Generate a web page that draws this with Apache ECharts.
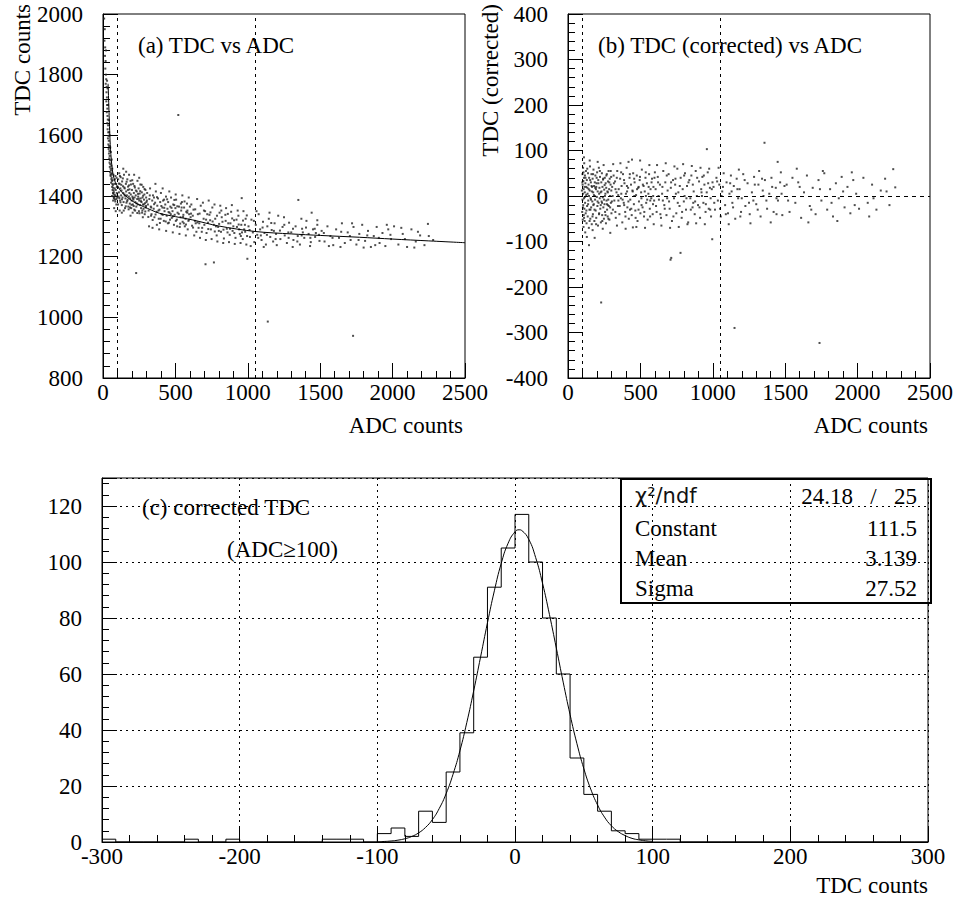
<!DOCTYPE html>
<html><head><meta charset="utf-8">
<script src="https://cdn.jsdelivr.net/npm/echarts@6/dist/echarts.min.js"></script>
<style>html,body{margin:0;padding:0;background:#fff}#c{width:957px;height:905px}</style>
</head><body><div id="c"></div>
<script>
// ---------- data ----------
const cutLinesADC = [100, 1050];

// (a) fitted time-walk curve (ADC, TDC)
const walkFitADC = [35,40,45,50,60,70,85,100,130,170,220,280,390,500,620,800,1050,1300,1500,1770,2000,2250,2500];
const walkFitTDC = [1770,1700,1630,1570,1505,1470,1445,1432,1412,1395,1378,1365,1343,1332,1321,1301,1283,1275,1270,1264,1258,1252,1246];

// (a) raw events (ADC, TDC)
const eventsA = [
[8,1985],[12,1950],[10,1912],[15,1890],[14,1862],[18,1845],[16,1820],[20,1800],[22,1785],[19,1770],[25,1760],[24,1742],[27,1725],[23,1712],[28,1700],[30,1688],[26,1676],[31,1664],[33,1652],[29,1640],[35,1633],[32,1620],[36,1610],[38,1598],[34,1590],[40,1582],[37,1570],[42,1565],[39,1555],[44,1548],[41,1540],[46,1532],[43,1524],[48,1518],[45,1510],[50,1505],[47,1496],[52,1490],[55,1484],[49,1478],[57,1472],[53,1466],[60,1460],[58,1455],[62,1450],[56,1444],[65,1440],[68,1436],[63,1430],[70,1427],[66,1420],[73,1418],[75,1412],[71,1408],[78,1404],[80,1398],[76,1392],[83,1388],[85,1382],[88,1420],[82,1455],[90,1440],[86,1466],[92,1372],[95,1410],[98,1395],[60,1520],[54,1545],[64,1490],[72,1470],[35,1700],[28,1780],[40,1650],[46,1600],[31,1755],[20,1880],[70,1385],[62,1400],[77,1360],[88,1350],[94,1460],[50,1560],[42,1610],[58,1500],
[52,1470],[67,1452],[74,1395],[81,1425],[87,1402],[93,1390],[96,1430],[79,1440],[61,1475],[69,1410],
[102,1430],[105,1455],[108,1398],[110,1412],[112,1475],[115,1440],[118,1385],[120,1425],[122,1462],[125,1402],[128,1418],[130,1370],[132,1448],[135,1395],[138,1432],[140,1410],[142,1380],[145,1470],[148,1405],[150,1425],[152,1360],[155,1392],[158,1440],[160,1415],[162,1378],[165,1402],[168,1455],[170,1388],[172,1420],[175,1365],[178,1398],[180,1435],[182,1410],[185,1375],[188,1392],[190,1450],[192,1405],[195,1360],[198,1385],[200,1420],[203,1398],[206,1372],[208,1440],[210,1388],[213,1410],[216,1355],[218,1395],[220,1428],[223,1380],[226,1402],[229,1146],[230,1365],[233,1415],[236,1390],[238,1450],[240,1372],[243,1398],[246,1425],[248,1350],[250,1385],[253,1408],[256,1370],[258,1438],[260,1392],[263,1360],[266,1380],[268,1412],[270,1345],[273,1395],[276,1372],[278,1430],[280,1358],[283,1388],[286,1405],[288,1340],[290,1376],[293,1420],[296,1362],[298,1395],[300,1380],[115,1352],[130,1345],[160,1480],[190,1335],[215,1470],[250,1460],[275,1330],[140,1490],[205,1345],[180,1470],
[104,1372],[109,1441],[113,1393],[117,1466],[121,1379],[126,1437],[131,1389],[137,1458],[143,1352],[147,1428],[153,1401],[157,1366],[163,1447],[167,1383],[173,1431],[177,1356],[183,1422],[187,1362],[193,1438],[197,1371],[202,1452],[207,1393],[212,1367],[217,1433],[222,1352],[227,1418],[232,1376],[237,1344],[242,1407],[247,1391],[252,1343],[257,1416],[262,1383],[267,1437],[272,1352],[277,1401],[282,1372],[287,1423],[292,1349],[297,1367],
[305,1410],[310,1372],[315,1352],[320,1390],[325,1425],[330,1365],[335,1340],[340,1385],[345,1402],[350,1358],[355,1330],[360,1378],[365,1415],[370,1348],[375,1368],[380,1392],[385,1325],[390,1355],[395,1380],[400,1410],[405,1340],[410,1362],[415,1385],[420,1318],[425,1350],[430,1372],[435,1398],[440,1335],[445,1358],[450,1380],[455,1312],[460,1345],[465,1365],[470,1395],[475,1328],[480,1350],[485,1372],[490,1305],[495,1338],[500,1360],[505,1388],[510,1322],[515,1345],[520,1667],[525,1365],[530,1298],[535,1330],[540,1352],[545,1380],[550,1315],[555,1338],[560,1362],[565,1300],[570,1325],[575,1348],[580,1375],[585,1290],[590,1318],[595,1340],[600,1365],[318,1300],[342,1295],[362,1440],[388,1290],[412,1425],[436,1285],[458,1415],[482,1280],[502,1405],[528,1275],[548,1402],[572,1270],[592,1395],[332,1335],[352,1395],[372,1305],[398,1325],[422,1388],[448,1310],[468,1340],[492,1370],[512,1300],[538,1375],[558,1310],[582,1345],
[303,1385],[313,1331],[323,1402],[333,1362],[343,1321],[353,1373],[363,1339],[373,1396],[383,1352],[393,1311],[403,1367],[413,1338],[423,1361],[433,1316],[443,1389],[453,1347],[463,1322],[473,1361],[483,1333],[493,1387],[503,1318],[513,1366],[523,1341],[533,1309],[543,1362],[553,1331],[563,1382],[573,1306],[583,1352],[593,1322],
[605,1330],[615,1302],[625,1355],[635,1318],[645,1282],[655,1340],[665,1310],[675,1368],[685,1295],[695,1325],[705,1350],[708,1175],[715,1278],[725,1312],[735,1338],[745,1290],[755,1362],[765,1305],[766,1181],[775,1325],[785,1270],[795,1298],[805,1345],[815,1282],[825,1315],[835,1260],[845,1338],[855,1292],[865,1310],[875,1272],[885,1348],[895,1285],[905,1320],[915,1262],[925,1298],[935,1335],[945,1275],[955,1305],[958,1393],[965,1258],[975,1290],[985,1325],[995,1268],[997,1193],[610,1372],[630,1270],[650,1390],[670,1262],[690,1378],[710,1255],[730,1385],[750,1258],[770,1372],[790,1250],[810,1368],[830,1245],[850,1360],[870,1248],[890,1370],[910,1242],[930,1352],[950,1245],[970,1350],[990,1240],[620,1335],[660,1295],[700,1305],[740,1320],[780,1300],[820,1330],[860,1280],[900,1300],[940,1290],[980,1305],[640,1310],[720,1340],[800,1285],[880,1310],[960,1280],
[608,1342],[622,1296],[637,1356],[652,1313],[667,1342],[682,1282],[697,1352],[712,1322],[727,1291],[742,1346],[757,1316],[772,1283],[787,1335],[802,1308],[817,1352],[832,1289],[847,1318],[862,1341],[877,1292],[892,1326],[907,1278],[922,1322],[937,1306],[952,1268],[967,1319],[982,1282],[993,1336],
[1005,1300],[1015,1265],[1025,1322],[1035,1280],[1045,1248],[1055,1305],[1065,1272],[1075,1340],[1085,1290],[1095,1255],[1105,1315],[1115,1278],[1125,1240],[1135,1300],[1138,986],[1145,1325],[1155,1265],[1165,1288],[1175,1250],[1185,1310],[1195,1275],[1210,1335],[1225,1258],[1240,1298],[1255,1270],[1270,1245],[1285,1312],[1300,1280],[1315,1255],[1330,1300],[1345,1268],[1349,1387],[1360,1240],[1375,1292],[1390,1262],[1405,1318],[1420,1275],[1435,1248],[1441,1345],[1450,1290],[1465,1265],[1480,1305],[1495,1252],[1020,1235],[1060,1350],[1110,1232],[1150,1345],[1200,1238],[1250,1330],[1310,1232],[1370,1325],[1430,1235],[1480,1320],[1090,1270],[1180,1285],[1280,1280],[1380,1280],[1470,1278],
[1012,1288],[1042,1318],[1072,1262],[1102,1296],[1132,1272],[1162,1311],[1192,1258],[1222,1286],[1252,1305],[1282,1262],[1312,1292],[1342,1250],[1372,1270],[1402,1296],[1432,1262],[1462,1292],[1492,1272],
[1510,1285],[1530,1250],[1550,1300],[1570,1268],[1590,1238],[1610,1290],[1630,1262],[1650,1310],[1670,1245],[1690,1280],[1710,1255],[1727,939],[1730,1298],[1750,1240],[1770,1275],[1790,1305],[1810,1252],[1830,1285],[1850,1232],[1870,1268],[1890,1298],[1910,1245],[1930,1278],[1950,1235],[1970,1290],[1990,1258],[2010,1300],[2040,1240],[2070,1275],[2100,1232],[2130,1290],[2160,1250],[2190,1270],[2220,1238],[2244,1308],[2250,1268],[2280,1255],[1560,1235],[1640,1232],[1720,1310],[1800,1230],[1880,1238],[1960,1305],[2060,1295],[2150,1230],
[1525,1278],[1585,1262],[1645,1282],[1705,1268],[1765,1255],[1825,1270],[1905,1262],[1985,1272],[2085,1258],[2175,1282]
];

// (b) corrected events (ADC, corrected TDC)
const eventsB = [
[96,12],[98,-35],[100,48],[100,-8],[101,25],[102,-52],[103,5],[104,62],[105,-20],[106,33],[107,-68],[108,15],[109,-42],[110,40],[111,-5],[112,72],[113,-28],[114,20],[115,-55],[116,8],[117,45],[118,-15],[119,-80],[120,28],[122,-38],[124,55],[126,2],[128,-60],[130,35],[132,-22],[134,18],[136,-45],[138,50],[140,-10],[142,25],[144,-70],[145,-108],[146,40],[148,-30],[150,12],[152,65],[154,-50],[156,-5],[158,30],[160,-25],[162,48],[164,-62],[166,20],[168,-12],[170,38],[172,-40],[174,8],[176,58],[178,-18],[180,22],[182,-55],[184,-92],[185,30],[187,-8],[189,45],[191,-32],[193,15],[195,-48],[197,28],[199,-2],[201,52],[203,-22],[205,10],[207,-65],[209,35],[211,-15],[213,62],[215,-38],[217,18],[219,-5],[221,42],[223,-28],[225,8],[227,-58],[229,-234],[230,30],[232,-12],[234,50],[236,-42],[238,20],[240,-3],[242,36],[244,-25],[246,68],[248,-50],[250,14],[252,-18],[254,40],[256,-35],[258,5],[260,28],[262,-60],[264,18],[266,-10],[268,48],[270,-30],[272,10],[274,-45],[276,32],[278,-8],[280,55],[282,-22],[284,15],[286,-52],[288,38],[290,0],[292,-81],[294,25],[296,-15],[298,42],[300,-38],[110,85],[130,-90],[150,78],[170,-75],[205,75],[240,-72],[125,20],[135,5],[145,0],[155,-30],[165,10],[175,-20],[185,0],[195,20],[215,5],[235,-15],[255,0],[275,-20],
[99,30],[103,-25],[107,52],[111,-48],[116,-2],[121,40],[127,-32],[133,60],[139,-18],[143,15],[149,-55],[153,35],[159,-8],[163,22],[169,-45],[173,48],[179,2],[183,-30],[188,18],[194,-62],[198,40],[204,-12],[210,28],[214,-40],[220,55],[226,-20],[231,10],[237,-55],[243,38],[249,-8],[253,24],[259,-42],[265,45],[269,-18],[275,8],[279,-50],[285,30],[291,-25],[295,55],[299,12],
[305,20],[310,-30],[315,45],[320,-10],[325,32],[330,-48],[335,8],[340,55],[345,-22],[350,15],[355,-40],[360,38],[365,-5],[370,22],[375,-58],[380,48],[385,-15],[390,28],[395,-35],[400,5],[405,62],[410,-25],[415,18],[420,-50],[425,40],[430,-8],[435,25],[440,-42],[445,12],[448,-69],[450,50],[455,-18],[460,30],[465,-32],[470,2],[475,45],[480,-55],[485,18],[490,-12],[495,35],[500,-38],[505,8],[510,58],[515,-25],[520,337],[522,22],[525,-45],[530,10],[535,40],[540,-15],[545,28],[550,-52],[555,5],[560,48],[565,-28],[570,15],[575,-5],[580,38],[585,-40],[590,20],[595,-10],[600,52],[312,70],[338,-65],[362,72],[398,-72],[418,75],[442,80],[472,-68],[498,78],[532,-70],[562,68],[592,-62],[308,0],[328,15],[348,-10],[368,5],[388,-20],[408,10],[428,-30],[458,0],[488,20],[508,-20],[538,0],[568,-10],[588,0],
[303,-12],[317,28],[327,-35],[337,40],[347,2],[357,-22],[367,52],[377,-8],[387,35],[397,-45],[407,22],[417,-12],[427,48],[437,-28],[447,10],[457,38],[467,-48],[477,15],[487,-30],[497,42],[507,-5],[517,25],[527,-35],[537,52],[547,-8],[557,20],[567,-45],[577,30],[587,-18],[597,40],
[605,15],[612,-35],[620,42],[628,-8],[635,25],[642,-48],[650,5],[658,55],[665,-20],[672,30],[680,-42],[688,12],[695,48],[702,-28],[708,-140],[710,18],[713,-136],[718,-55],[725,35],[732,-5],[740,25],[748,-38],[755,60],[762,8],[770,-22],[777,-125],[778,40],[785,-48],[792,15],[800,-12],[808,50],[815,-30],[822,22],[830,-58],[838,35],[845,-5],[852,45],[860,-25],[868,10],[875,-40],[882,55],[890,0],[898,-20],[905,32],[912,-48],[920,15],[928,42],[935,-15],[942,25],[950,-35],[958,8],[959,103],[965,52],[972,-28],[980,18],[988,-45],[996,-95],[998,30],[615,68],[645,-65],[675,72],[705,-70],[735,65],[765,-68],[795,70],[825,-62],[855,66],[885,-60],[915,62],[945,-62],[975,60],[625,0],[655,-10],[685,-5],[745,5],[805,0],[865,-15],[925,0],[985,-5],
[608,-22],[622,30],[638,-40],[652,20],[668,-28],[682,45],[698,-12],[712,30],[728,-45],[742,38],[758,-15],[772,22],[788,-35],[802,45],[818,-5],[832,30],[848,-30],[862,25],[878,-12],[892,40],[908,-25],[922,8],[938,45],[952,-18],[968,28],[982,-30],[993,15],
[1005,20],[1015,-30],[1025,40],[1035,-10],[1045,25],[1055,-45],[1065,10],[1075,50],[1085,-20],[1095,30],[1105,-38],[1115,5],[1125,45],[1135,-15],[1150,-290],[1145,22],[1155,-50],[1165,38],[1175,-5],[1185,15],[1195,-35],[1210,48],[1225,-22],[1240,28],[1255,-40],[1270,8],[1285,42],[1300,-18],[1315,25],[1330,-45],[1345,12],[1357,117],[1360,35],[1375,-28],[1390,5],[1405,40],[1420,-35],[1435,18],[1448,75],[1450,-10],[1465,30],[1480,-42],[1495,22],[1040,62],[1110,-62],[1180,58],[1260,-60],[1320,55],[1400,-58],[1470,52],[1060,0],[1130,10],[1200,-5],[1280,-10],[1350,0],[1440,-5],
[1010,-15],[1030,32],[1050,-28],[1070,20],[1090,-40],[1120,28],[1140,-25],[1170,15],[1190,-45],[1220,35],[1250,-15],[1290,25],[1310,-30],[1340,38],[1370,-10],[1410,20],[1440,-40],[1475,5],
[1510,25],[1530,-35],[1550,40],[1570,-15],[1590,30],[1610,-48],[1630,8],[1650,45],[1670,-22],[1690,18],[1710,-40],[1737,-323],[1730,35],[1750,-10],[1770,50],[1790,-30],[1810,15],[1830,-45],[1850,28],[1870,-5],[1890,42],[1910,-25],[1930,20],[1950,-38],[1970,35],[1990,5],[2010,-28],[2040,40],[2070,-15],[2100,25],[2130,-30],[2160,12],[2190,38],[2220,-20],[2246,59],[2260,19],[1580,60],[1660,-58],[1760,55],[1860,-55],[1960,52],[2080,-45],
[1520,-10],[1600,20],[1680,-30],[1740,15],[1820,-15],[1900,10],[1980,-20],[2110,-5],[2200,10]
];

// (c) histogram of corrected TDC, 10-count bins from -300
const histStart = -300;
const histBinWidth = 10;
const histCounts = [1,0,0,0,0,0,1,0,0,1,0,0,0,0,0,0,1,1,1,0,3,5,2,11,7,25,39,66,91,105,
                    117,100,80,60,30,17,11,4,3,1,1,1,0,0,0,0,0,0,0,0,0,0,0,0,0,0,0,0,0,0];
// (c) Gaussian fit curve
const gausX = [-100,-95,-90,-85,-80,-75,-70,-65,-60,-55,-50,-45,-40,-35,-30,-25,-20,-15,-10,-5,0,3,5,10,15,20,25,30,35,40,45,50,55,60,65,70,75,80,85,90,95,100];
const gausY = [0.1,0.19,0.36,0.66,1.16,1.98,3.26,5.2,8.0,12.0,17.3,24.2,32.6,42.7,54.0,66.1,78.3,89.7,99.5,106.7,110.8,111.5,111.2,108.1,101.6,92.4,81.3,69.3,57.1,45.5,35.1,26.2,18.9,13.2,8.9,5.8,3.7,2.3,1.3,0.77,0.42,0.23];
const statLabels = ['Constant', 'Mean', 'Sigma'];
const statValues = ['111.5', '3.139', '27.52'];
const chi2Text = '24.18   /   25';

// ---------- chart ----------
const SERIF = "'Liberation Serif','Times New Roman',serif";
const FS = 23;
const chart = echarts.init(document.getElementById('c'), null, {renderer: 'svg'});

function vAxis(gi, min, max, interval, isY, extra) {
  return Object.assign({
    type: 'value', gridIndex: gi, min: min, max: max, interval: interval,
    axisLine: {show: true, onZero: false, lineStyle: {color: '#000', width: 1}},
    axisTick: {show: true, inside: true, length: 15, lineStyle: {color: '#000'}},
    minorTick: {show: true, splitNumber: 5, length: 7, lineStyle: {color: '#000'}},
    axisLabel: {color: '#000', fontFamily: SERIF, fontSize: FS, margin: isY ? 20 : 3,
                formatter: v => String(v), showMaxLabel: !(isY && gi === 2)},
    splitLine: {show: false}
  }, extra || {});
}
const dotted = {color: '#000', width: 1, type: [2, 4]};

const histData = histCounts.map((c, i) => [histStart + i * histBinWidth, c]);
histData.push([histStart + histCounts.length * histBinWidth, histCounts[histCounts.length - 1]]);

const option = {
  backgroundColor: '#fff',
  animation: false,
  grid: [
    {left: 103, top: 14, width: 362, height: 364, show: true, borderColor: '#000', borderWidth: 1, backgroundColor: 'transparent'},
    {left: 568, top: 14, width: 362, height: 364, show: true, borderColor: '#000', borderWidth: 1, backgroundColor: 'transparent'},
    {left: 102, top: 478, width: 826, height: 364, show: true, borderColor: '#000', borderWidth: 1, backgroundColor: 'transparent'}
  ],
  xAxis: [
    vAxis(0, 0, 2500, 500, false),
    vAxis(1, 0, 2500, 500, false),
    vAxis(2, -300, 300, 100, false, {splitLine: {show: true, lineStyle: dotted}})
  ],
  yAxis: [
    vAxis(0, 800, 2000, 200, true),
    vAxis(1, -400, 400, 100, true),
    vAxis(2, 0, 130, 20, true, {splitLine: {show: true, lineStyle: dotted}})
  ],
  series: [
    {type: 'scatter', xAxisIndex: 0, yAxisIndex: 0, data: eventsA, symbol: 'rect', symbolSize: 2, itemStyle: {color: '#222'}, silent: true,
     markLine: {silent: true, symbol: 'none', label: {show: false}, lineStyle: {color: '#000', width: 1, type: [3, 4]},
                data: cutLinesADC.map(v => ({xAxis: v}))}},
    {type: 'line', xAxisIndex: 0, yAxisIndex: 0, data: walkFitADC.map((x, i) => [x, walkFitTDC[i]]), showSymbol: false, smooth: 0.3,
     lineStyle: {color: '#000', width: 1}, silent: true},
    {type: 'scatter', xAxisIndex: 1, yAxisIndex: 1, data: eventsB, symbol: 'rect', symbolSize: 2, itemStyle: {color: '#222'}, silent: true,
     markLine: {silent: true, symbol: 'none', label: {show: false}, lineStyle: {color: '#000', width: 1, type: [3, 4]},
                data: cutLinesADC.map(v => ({xAxis: v})).concat([{yAxis: 0, lineStyle: {type: [4, 4]}}])}},
    {type: 'line', xAxisIndex: 2, yAxisIndex: 2, data: histData, step: 'end', showSymbol: false,
     lineStyle: {color: '#000', width: 1}, silent: true},
    {type: 'line', xAxisIndex: 2, yAxisIndex: 2, data: gausX.map((x, i) => [x, gausY[i]]), showSymbol: false, smooth: true,
     lineStyle: {color: '#000', width: 1}, silent: true}
  ],
  graphic: [
    {type: 'text', x: 22, y: 4, rotation: Math.PI / 2, style: {text: 'TDC counts', font: FS + 'px ' + SERIF, fill: '#000', align: 'right', verticalAlign: 'middle'}},
    {type: 'text', x: 490, y: 4, rotation: Math.PI / 2, style: {text: 'TDC (corrected)', font: FS + 'px ' + SERIF, fill: '#000', align: 'right', verticalAlign: 'middle'}},
    {type: 'text', x: 463, y: 425, style: {text: 'ADC counts', font: FS + 'px ' + SERIF, fill: '#000', align: 'right', verticalAlign: 'middle'}},
    {type: 'text', x: 928, y: 425, style: {text: 'ADC counts', font: FS + 'px ' + SERIF, fill: '#000', align: 'right', verticalAlign: 'middle'}},
    {type: 'text', x: 928, y: 885, style: {text: 'TDC counts', font: FS + 'px ' + SERIF, fill: '#000', align: 'right', verticalAlign: 'middle'}},
    {type: 'text', x: 138, y: 45, style: {text: '(a) TDC vs ADC', font: FS + 'px ' + SERIF, fill: '#000', align: 'left', verticalAlign: 'middle'}},
    {type: 'text', x: 598, y: 45, style: {text: '(b) TDC (corrected) vs ADC', font: FS + 'px ' + SERIF, fill: '#000', align: 'left', verticalAlign: 'middle'}},
    {type: 'text', x: 142, y: 507, style: {text: '(c) corrected TDC', font: FS + 'px ' + SERIF, fill: '#000', align: 'left', verticalAlign: 'middle'}},
    {type: 'text', x: 227, y: 549, style: {text: '(ADC\u2265100)', font: FS + 'px ' + SERIF, fill: '#000', align: 'left', verticalAlign: 'middle'}},
    {type: 'rect', shape: {x: 621, y: 479, width: 310, height: 124}, style: {fill: 'none', stroke: '#000', lineWidth: 2}},
    {type: 'text', x: 635, y: 496, style: {text: '\u03c7\u00b2/ndf', font: '21px "DejaVu Sans", sans-serif', fill: '#111', align: 'left', verticalAlign: 'middle'}},
    {type: 'text', x: 917, y: 496, style: {text: chi2Text, font: FS + 'px ' + SERIF, fill: '#000', align: 'right', verticalAlign: 'middle'}},
    ...statLabels.map((s, i) => ({type: 'text', x: 635, y: 528 + i * 30, style: {text: s, font: FS + 'px ' + SERIF, fill: '#000', align: 'left', verticalAlign: 'middle'}})),
    ...statValues.map((s, i) => ({type: 'text', x: 917, y: 528 + i * 30, style: {text: s, font: FS + 'px ' + SERIF, fill: '#000', align: 'right', verticalAlign: 'middle'}}))
  ]
};
chart.setOption(option);
</script>
</body></html>
